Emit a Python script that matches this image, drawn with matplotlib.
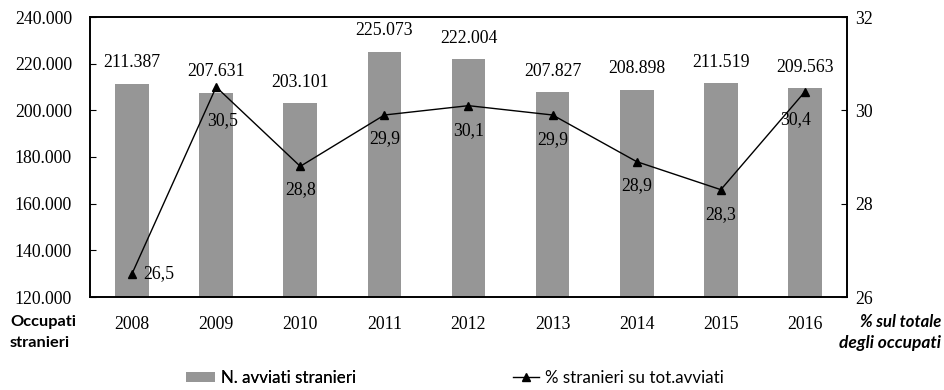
import numpy as np
import matplotlib.pyplot as plt
from matplotlib.ticker import FuncFormatter

# dati: avviati stranieri e quota sul totale
anni = ["2008", "2009", "2010", "2011", "2012", "2013", "2014", "2015", "2016"]
avviati = [211387, 207631, 203101, 225073, 222004, 207827, 208898, 211519, 209563]
quota = [26.5, 30.5, 28.8, 29.9, 30.1, 29.9, 28.9, 28.3, 30.4]

left_ticks = [120000, 140000, 160000, 180000, 200000, 220000, 240000]
right_ticks = [26, 28, 30, 32]

SERIF = "Liberation Serif"
SANS = "Lato"
FS = 12.8


def fmt_migliaia(v):
    return f"{int(v):,}".replace(",", ".")


fig = plt.figure(figsize=(9.44, 3.90), dpi=100)
ax = fig.add_axes([90 / 944, 1 - 297 / 390, 757 / 944, 280 / 390])
ax2 = ax.twinx()

x = np.arange(len(anni))
bars = ax.bar(x, avviati, width=0.40, color="#969696", zorder=2,
              label="N. avviati stranieri")
ax.set_xlim(-0.5, len(anni) - 0.5)
ax.set_ylim(120000, 240000)
ax.set_yticks(left_ticks)
ax.yaxis.set_major_formatter(FuncFormatter(lambda v, p: fmt_migliaia(v)))
ax.set_xticks(x)
ax.set_xticklabels(anni, fontfamily=SERIF, fontsize=FS)
ax.tick_params(axis="x", length=0, pad=14)
ax.tick_params(axis="y", direction="in", length=4, pad=13, labelsize=FS)
for lab in ax.get_yticklabels():
    lab.set_fontfamily(SERIF)

# valori sopra le barre
for xi, v in zip(x, avviati):
    ax.annotate(fmt_migliaia(v), (xi, v), xytext=(0, 15), textcoords="offset points",
                ha="center", va="center", fontfamily=SERIF, fontsize=FS)

line, = ax2.plot(x, quota, color="black", lw=1.0, marker="^", ms=6,
                 label="% stranieri su tot.avviati")
ax2.set_ylim(26, 32)
ax2.set_yticks(right_ticks)
ax2.tick_params(axis="y", direction="in", length=4, pad=6, labelsize=FS)
for lab in ax2.get_yticklabels():
    lab.set_fontfamily(SERIF)

# posizione delle etichette della linea (offset in punti)
offsets = [(19, 0), (5, -24), (0, -17), (0, -17), (0, -18), (0, -18), (0, -17), (0, -18), (-7, -20)]
for xi, v, (dx, dy) in zip(x, quota, offsets):
    ax2.annotate(f"{v:.1f}".replace(".", ","), (xi, v), xytext=(dx, dy),
                 textcoords="offset points", ha="center", va="center",
                 fontfamily=SERIF, fontsize=FS)

for a in (ax, ax2):
    for s in a.spines.values():
        s.set_linewidth(1.2)

fig.text(10 / 944, 1 - 322 / 390, "Occupati", fontfamily=SANS, fontweight="bold",
         fontsize=11.8, ha="left", va="center")
fig.text(10 / 944, 1 - 343 / 390, "stranieri", fontfamily=SANS, fontweight="bold",
         fontsize=11.8, ha="left", va="center")
fig.text(941 / 944, 1 - 322 / 390, "% sul totale", fontfamily=SANS, fontweight="bold",
         style="italic", fontsize=12, ha="right", va="center")
fig.text(941 / 944, 1 - 343 / 390, "degli occupati", fontfamily=SANS, fontweight="bold",
         style="italic", fontsize=12.5, ha="right", va="center")

leg1 = fig.legend(handles=[bars], loc="center left", bbox_to_anchor=(186 / 944, 1 - 378 / 390),
                  frameon=False, borderpad=0, borderaxespad=0, handlelength=1.7,
                  handleheight=0.55, handletextpad=0.35, prop={"family": SANS, "size": 12.2})
fig.add_artist(leg1)
fig.legend(handles=[line], loc="center left", bbox_to_anchor=(513 / 944, 1 - 378 / 390),
           frameon=False, borderpad=0, borderaxespad=0, handlelength=1.55,
           handletextpad=0.35, prop={"family": SANS, "size": 12.2})

fig.savefig("out.png", dpi=100)
